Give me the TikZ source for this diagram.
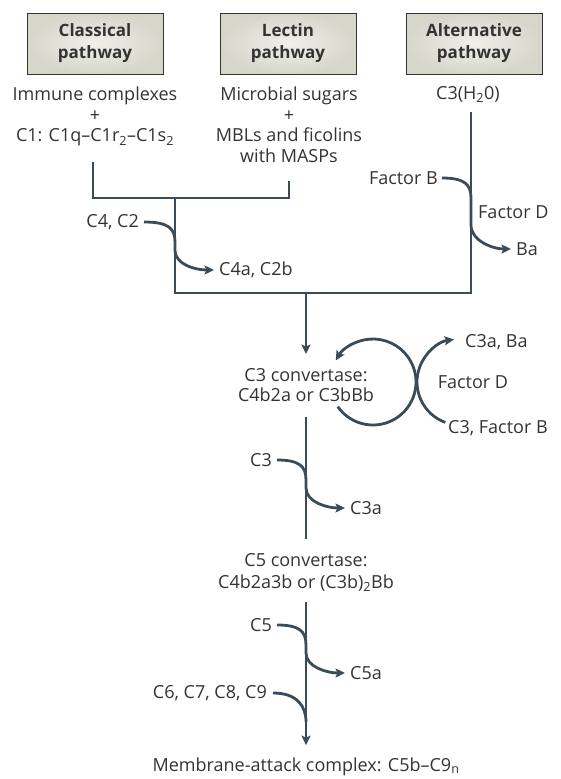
\documentclass[tikz,border=0pt]{standalone}
\usepackage{fontspec}
\setmainfont{Open Sans}
\usetikzlibrary{arrows.meta}
\definecolor{ink}{HTML}{3B4C58}
\definecolor{txt}{HTML}{333333}
\definecolor{boxfill}{HTML}{D6D6CB}
\definecolor{boxlight}{HTML}{F0F0EA}
\begin{document}
\begin{tikzpicture}[x=1pt,y=-1pt,
  flow/.style={draw=ink, line width=2.8pt},
  tip/.style={-{Stealth[length=9.5pt,width=9pt,inset=2pt]}},
  lbl/.style={text=txt, font=\fontsize{18}{20.5}\selectfont, inner sep=0pt, align=center},
  pathbox/.style={draw=txt, line width=0.9pt, inner color=boxlight, outer color=boxfill,
    minimum width=136pt, minimum height=61pt, align=center, text=txt,
    font=\bfseries\fontsize{17}{22}\selectfont}]
\useasboundingbox (0,0) rectangle (560,779);

% pathway headers
\node[pathbox] (classical) at (95,43.5) {Classical\\pathway};
\node[pathbox] (lectin) at (288,43.5) {Lectin\\pathway};
\node[pathbox] (alternative) at (474,43.5) {Alternative\\pathway};

% initiators
\node[lbl, anchor=north] (immune) at (95,87) {Immune complexes\\+\\C1: C1q–C1r\textsubscript{2}–C1s\textsubscript{2}};
\node[lbl, anchor=north] (sugars) at (289,87) {Microbial sugars\\+\\MBLs and ficolins\\with MASPs};
\node[lbl, anchor=north] (tickover) at (468,86) {C3(H\textsubscript{2}0)};

% pathway lines and their junctions
\coordinate (clA) at (93,162);
\coordinate (clB) at (93,198);
\coordinate (leA) at (289,181);
\coordinate (leB) at (289,198);
\coordinate (joinCL) at (175,198);
\coordinate (alA) at (471,112);
\coordinate (joinAll) at (175,293);
\coordinate (alB) at (471,293);
\coordinate (drop) at (306,293);

\draw[flow] (clA) -- (clB) -- (leB) -- (leA);
\draw[flow] (joinCL) -- (joinAll) -- (alB) -- (alA);

% classical / lectin cleavage of C4 and C2
\node[lbl, anchor=east] (c4c2) at (139,222) {C4, C2};
\node[lbl, anchor=west] (c4a) at (219,270) {C4a, C2b};
\draw[flow, tip] ([xshift=5pt]c4c2.east) .. controls +(24,0) and +(0,-14) .. (175,242)
  -- (175,250) .. controls +(0,15) and +(-18,0) .. ([xshift=-5pt]c4a.west);

% alternative cleavage of factor B
\node[lbl, anchor=east] (fB) at (438,178) {Factor B};
\node[lbl, anchor=west] (fD1) at (478,212) {Factor D};
\node[lbl, anchor=west] (Ba) at (516,249) {Ba};
\draw[flow, tip] ([xshift=4pt]fB.east) .. controls +(22,0) and +(0,-14) .. (471,198)
  -- (471,225) .. controls +(0,16) and +(-18,0) .. ([xshift=-5pt]Ba.west);

% C3 convertase
\node[lbl, anchor=north, font=\fontsize{18}{20}\selectfont] (c3conv) at (306,368) {C3 convertase:\\C4b2a or C3bBb};
\draw[flow, tip, shorten >=14pt] (drop) -- (c3conv.north);

% amplification loop
\draw[flow, tip] (373,382) ++(145:43) arc[start angle=145, end angle=-150, radius=43];
\node[lbl, anchor=west] (c3aBa) at (465,342) {C3a, Ba};
\node[lbl] (fD2) at (473,382) {Factor D};
\node[lbl, anchor=west] (c3fB) at (448,428) {C3, Factor B};
\draw[flow, tip] (460,382) ++(110:43) arc[start angle=110, end angle=262, radius=43];

% C3 cleavage
\coordinate (mainA) at (306,417);
\coordinate (mainB) at (306,539);
\draw[flow] (mainA) -- (mainB);
\node[lbl, anchor=east] (c3) at (272,460) {C3};
\node[lbl, anchor=west] (c3a) at (350,508) {C3a};
\draw[flow, tip] ([xshift=5pt]c3.east) .. controls +(22,0) and +(0,-14) .. (306,480)
  -- (306,488) .. controls +(0,14) and +(-18,0) .. ([xshift=-5pt]c3a.west);

% C5 convertase
\node[lbl, anchor=north, font=\fontsize{18}{22}\selectfont] (c5conv) at (306,553) {C5 convertase:\\C4b2a3b or (C3b)\textsubscript{2}Bb};
\coordinate (mainC) at (306,602);
\node[lbl, anchor=base] (mac) at (306,771) {Membrane-attack complex: C5b–C9\textsubscript{n}};
\draw[flow, tip, shorten >=12pt] (mainC) -- (mac.north);

% C5 cleavage and terminal components
\node[lbl, anchor=east] (c5) at (272,625) {C5};
\node[lbl, anchor=west] (c5a) at (350,673) {C5a};
\draw[flow, tip] ([xshift=5pt]c5.east) .. controls +(22,0) and +(0,-14) .. (306,645)
  -- (306,653) .. controls +(0,14) and +(-18,0) .. ([xshift=-5pt]c5a.west);
\node[lbl, anchor=east] (c69) at (267,693) {C6, C7, C8, C9};
\draw[flow] ([xshift=6pt]c69.east) .. controls +(24,0) and +(0,-16) .. (306,722);
\end{tikzpicture}
\end{document}
